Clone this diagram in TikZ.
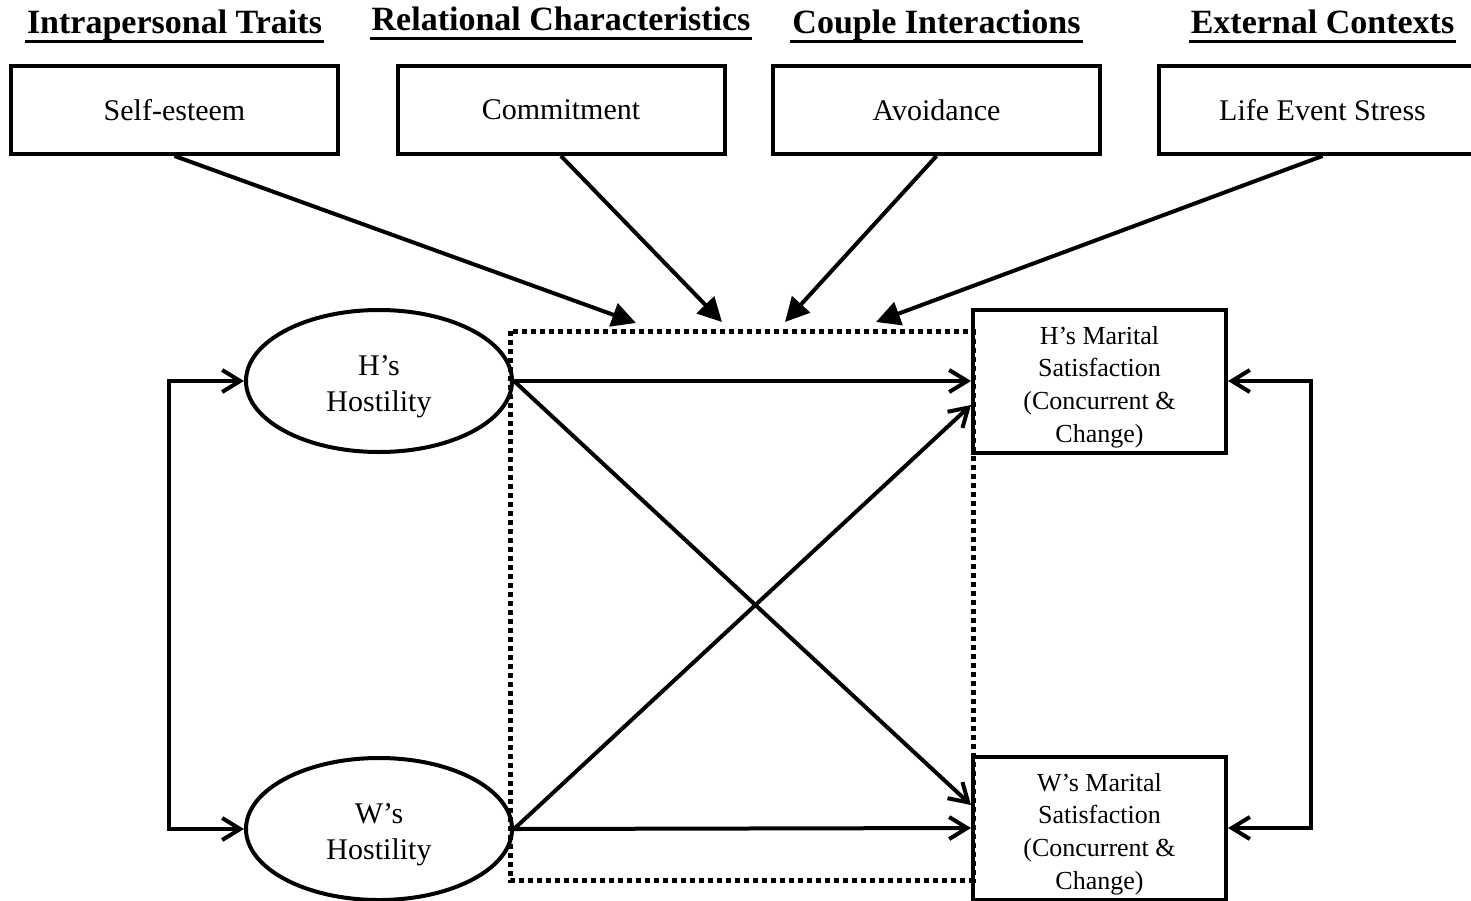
\documentclass[tikz,border=0pt]{standalone}
\usepackage{fontspec}
\setmainfont{Liberation Serif}
\usetikzlibrary{arrows.meta, calc, shapes.geometric}

\newcommand{\lowertext}[1]{\rule{0pt}{#1}}

\begin{document}
\begin{tikzpicture}[x=0.5pt, y=-0.5pt, line width=2pt,
		heading/.style={font=\fontsize{17}{20}\selectfont\bfseries, inner sep=0pt, anchor=base},
		factor/.style={draw, minimum width=163.5pt, minimum height=44pt, font=\fontsize{15}{18}\selectfont},
		latent/.style={draw, ellipse, minimum width=133pt, minimum height=71pt, inner sep=0pt, align=center, font=\fontsize{15}{18}\selectfont},
		outcome/.style={draw, minimum width=126.5pt, minimum height=71.5pt, inner sep=0pt, align=center, font=\fontsize{13}{16.3}\selectfont},
		effect/.style={-{Straight Barb[length=9pt, width=11pt]}},
		twoway/.style={{Straight Barb[length=9pt, width=11pt]}-{Straight Barb[length=9pt, width=11pt]}},
		moderate/.style={-{Triangle[length=12pt, width=12pt]}},
		window/.style={line width=2.5pt, dash pattern=on 2.5pt off 2pt}]
	\useasboundingbox (0,0) rectangle (1471,900);

	% headings
	\node[heading] (h1) at (174.5,33) {Intrapersonal Traits};
	\node[heading] (h2) at (561,30) {Relational Characteristics};
	\node[heading] (h3) at (936.5,33) {Couple Interactions};
	\node[heading] (h4) at (1322.5,33) {External Contexts};
	\foreach \h in {h1,h2,h3,h4}
		\draw[line width=1.5pt] ([yshift=-4pt]\h.base west) -- ([yshift=-4pt]\h.base east);

	% moderators
	\node[factor] (selfesteem) at (174.5,110) {Self-esteem};
	\node[factor] (commit) at (561,110) {Commitment};
	\node[factor] (avoid) at (936.5,110) {Avoidance};
	\node[factor] (stress) at (1322.5,110) {Life Event Stress};

	% actors and partners
	\node[latent] (hhost) at (379,381) {\lowertext{16pt}H’s\\Hostility};
	\node[latent] (whost) at (379,829) {\lowertext{16pt}W’s\\Hostility};
	\node[outcome] (hsat) at (1099.5,381) {\lowertext{15pt}H’s Marital\\Satisfaction\\(Concurrent \&\\Change)};
	\node[outcome] (wsat) at (1099.5,828) {\lowertext{15pt}W’s Marital\\Satisfaction\\(Concurrent \&\\Change)};

	\draw[window] (510,331) rectangle (973,880);
	\coordinate (m1) at (636,323);
	\coordinate (m2) at (722,322);
	\coordinate (m3) at (785,322);
	\coordinate (m4) at (876,322);

	\begin{scope}[moderate]
		\draw (selfesteem.south) -- (m1);
		\draw (commit.south) -- (m2);
		\draw (avoid.south) -- (m3);
		\draw (stress.south) -- (m4);
	\end{scope}

	\begin{scope}[effect]
		\draw (hhost.east) -- (hsat.west);
		\draw (hhost.east) -- ($(wsat.west)+(0,-23)$);
		\draw (whost.east) -- ($(hsat.west)+(0,24)$);
		\draw (whost.east) -- (wsat.west);
	\end{scope}

	\draw[twoway] (hhost.west) -- ++(-75,0) |- (whost.west);
	\draw[twoway] (hsat.east) -- ++(83,0) |- (wsat.east);
\end{tikzpicture}
\end{document}
